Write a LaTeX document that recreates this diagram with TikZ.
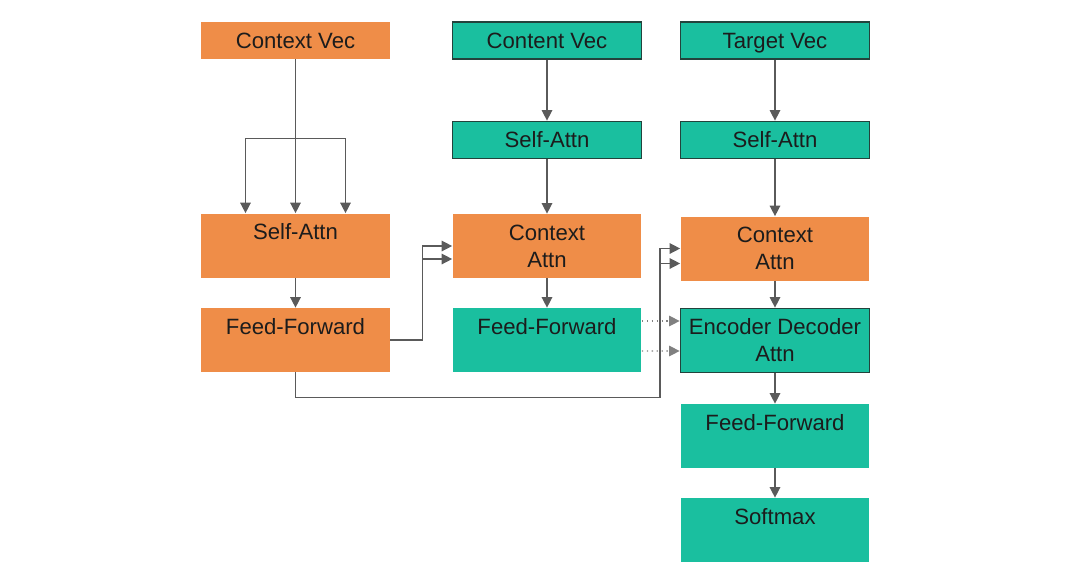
\documentclass[tikz,border=0pt]{standalone}
\usepackage{fontspec}
\setmainfont{Liberation Sans}
\usepackage{xcolor}
\usepackage{tikz}
\usetikzlibrary{calc}
\usetikzlibrary{arrows.meta}
\definecolor{NaranjaBlock}{HTML}{EF8D48}
\definecolor{TealBlock}{HTML}{1ABF9F}
\definecolor{FrameDark}{HTML}{23433C}
\definecolor{LineGray}{HTML}{5A5A5A}
\definecolor{TextDark}{HTML}{1C1C1C}

\begin{document}
\begin{tikzpicture}[x = .02cm, y = -.02cm,
    block/.style = {minimum width = 3.78cm, inner ysep = 0pt, text = TextDark,
      font = \fontsize{12.6}{15.4}\selectfont},
    orangeblock/.style = {block, fill = NaranjaBlock},
    tealblock/.style = {block, fill = TealBlock},
    framed/.style = {draw = FrameDark, line width = 1pt},
    short/.style = {text height = .52cm, text depth = .22cm},
    tall/.style = {text height = .52cm, text depth = .76cm},
    twoline/.style = {align = center, minimum height = 1.28cm},
    arr/.style = {line width = .8pt, draw = LineGray,
      -{Triangle[length = 6pt, width = 6pt]}},
    dotarr/.style = {arr, dotted, line width = .7pt, draw = gray}]
  \useasboundingbox (0,0) rectangle (1080,576);

  % encoder column
  \node[orangeblock, short] (cvec) at (295.5,40.5) {Context Vec};
  \node[orangeblock, tall] (sa1) at (295.5,245.5) {Self-Attn};
  \node[orangeblock, tall] (ff1) at (295.5,340) {Feed-Forward};

  % content column
  \node[tealblock, framed, short] (convec) at (547,40.5) {Content Vec};
  \node[tealblock, framed, short] (sa2) at (547,140) {Self-Attn};
  \node[orangeblock, twoline] (ctx2) at (547,246) {Context\\Attn};
  \node[tealblock, tall] (ff2) at (547,340) {Feed-Forward};

  % target column
  \node[tealblock, framed, short] (tvec) at (775,40.5) {Target Vec};
  \node[tealblock, framed, short] (sa3) at (775,140) {Self-Attn};
  \node[orangeblock, twoline] (ctx3) at (775,248.5) {Context\\Attn};
  \node[tealblock, framed, twoline] (encdec) at (775,340.5) {Encoder Decoder\\Attn};
  \node[tealblock, tall] (ff3) at (775,436) {Feed-Forward};
  \node[tealblock, tall] (soft) at (775,530) {Softmax};

  % connectors
  \coordinate (split) at ($(cvec.south)+(0,79)$);
  \draw[arr] (cvec.south) -- (sa1.north);
  \draw[arr] (split) -| ($(sa1.north)+(-50,0)$);
  \draw[arr] (split) -| ($(sa1.north)+(50,0)$);
  \draw[arr] (sa1) -- (ff1);

  \draw[arr] (ff1.east) -- ++(32,0) |- (ctx2.west);
  \draw[arr] (ff1.east) -- ++(32,0) |- ($(ctx2.west)+(0,13)$);
  \draw[arr] (ff1.south) -- ++(0,25) -| ($(ctx3.west)+(-20,0)$) -- (ctx3.west);
  \draw[arr] (ff1.south) -- ++(0,25) -| ($(ctx3.west)+(-20,15)$) -- ($(ctx3.west)+(0,15)$);

  \draw[arr] (convec) -- (sa2);
  \draw[arr] (sa2) -- (ctx2);
  \draw[arr] (ctx2) -- (ff2);

  \draw[arr] (tvec) -- (sa3);
  \draw[arr] (sa3) -- (ctx3);
  \draw[arr] (ctx3) -- (encdec);
  \draw[arr] (encdec) -- (ff3);
  \draw[arr] (ff3) -- (soft);

  \draw[dotarr] ($(ff2.east)+(0,-19)$) -- ($(encdec.west)+(0,-19.5)$);
  \draw[dotarr] ($(ff2.east)+(0,11)$) -- ($(encdec.west)+(0,10.5)$);
\end{tikzpicture}
\end{document}
